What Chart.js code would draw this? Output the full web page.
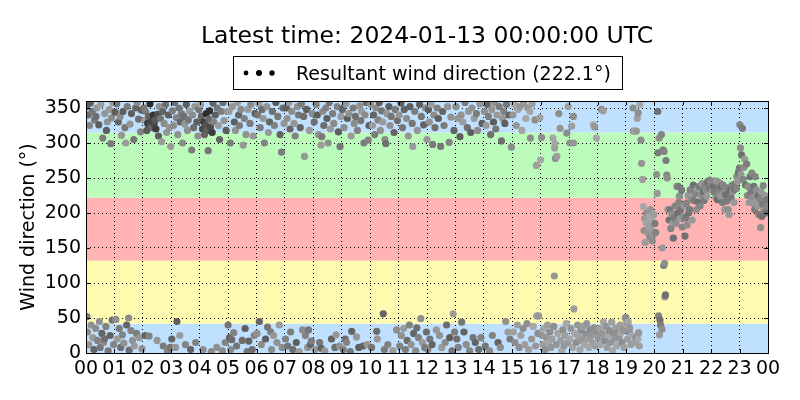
<!DOCTYPE html>
<html>
<head>
<meta charset="utf-8">
<script src="https://cdn.jsdelivr.net/npm/chart.js@4.4.1/dist/chart.umd.min.js"></script>
<style>
  html, body { margin: 0; padding: 0; background: #fff; }
</style>
</head>
<body>
<canvas id="chart" width="800" height="400"></canvas>
<script>
// Wind direction observations for 2024-01-12, hour of day vs degrees.
// Each line of obsHour matches the same line of obsDir.
const obsHour = [
  0.02,0.03,0.05,0.08,0.10,0.12,0.15,0.18,0.22,0.24,0.28,0.30,0.34,0.35,0.38,0.40,0.45,0.47,0.50,0.52,0.56,0.59,0.62,0.65,0.66,0.70,0.72,0.75,0.78,0.82,0.85,0.87,0.90,0.92,0.95,0.97,
  1.02,1.05,1.08,1.10,1.14,1.17,1.20,1.22,1.25,1.28,1.30,1.33,1.37,1.40,1.43,1.45,1.50,1.52,1.55,1.58,1.60,1.64,1.68,1.70,1.75,1.78,1.80,1.85,1.88,1.92,1.95,1.97,
  2.03,2.06,2.08,2.10,2.14,2.17,2.20,2.22,2.25,2.28,2.31,2.34,2.37,2.40,2.43,2.46,2.50,2.52,2.55,2.58,2.62,2.66,2.70,2.72,2.75,2.80,2.84,2.87,2.90,2.94,2.97,2.98,
  3.02,3.04,3.08,3.12,3.15,3.18,3.20,3.23,3.27,3.30,3.32,3.36,3.40,3.44,3.48,3.50,3.53,3.57,3.60,3.64,3.68,3.72,3.75,3.79,3.83,3.86,3.90,3.94,3.97,
  4.03,4.06,4.10,4.12,4.14,4.17,4.20,4.23,4.26,4.30,4.32,4.35,4.38,4.41,4.44,4.47,4.50,4.55,4.60,4.62,4.66,4.70,4.75,4.80,4.82,4.86,4.90,4.93,4.97,
  5.00,5.03,5.05,5.08,5.10,5.13,5.15,5.20,5.22,5.26,5.30,5.33,5.37,5.40,5.45,5.50,5.53,5.57,5.60,5.63,5.67,5.70,5.73,5.77,5.80,5.85,5.88,5.92,5.95,
  6.02,6.04,6.08,6.10,6.13,6.17,6.20,6.24,6.28,6.32,6.36,6.39,6.42,6.46,6.50,6.53,6.56,6.60,6.63,6.68,6.72,6.75,6.80,6.83,6.88,6.90,6.93,6.97,
  7.02,7.05,7.08,7.10,7.14,7.18,7.20,7.24,7.28,7.32,7.36,7.40,7.44,7.48,7.50,7.54,7.58,7.62,7.66,7.69,7.72,7.76,7.80,7.83,7.86,7.90,7.93,7.96,
  8.03,8.06,8.10,8.14,8.18,8.22,8.27,8.27,8.30,8.33,8.37,8.40,8.44,8.48,8.52,8.56,8.60,8.64,8.68,8.72,8.76,8.80,8.84,8.88,8.92,8.94,8.97,
  9.02,9.05,9.08,9.12,9.15,9.17,9.20,9.25,9.30,9.33,9.35,9.40,9.44,9.48,9.52,9.55,9.60,9.63,9.67,9.70,9.75,9.78,9.82,9.86,9.90,9.93,9.96,
  10.02,10.05,10.08,10.12,10.16,10.20,10.23,10.25,10.28,10.32,10.36,10.40,10.44,10.46,10.50,10.52,10.55,10.58,10.62,10.66,10.70,10.74,10.80,10.84,10.88,10.93,10.96,
  11.02,11.04,11.08,11.10,11.14,11.18,11.20,11.24,11.28,11.30,11.34,11.38,11.40,11.44,11.48,11.50,11.53,11.57,11.60,11.64,11.66,11.70,11.74,11.78,11.80,11.84,11.88,11.92,11.95,11.98,
  12.00,12.03,12.05,12.08,12.10,12.14,12.18,12.20,12.24,12.28,12.33,12.36,12.40,12.44,12.48,12.52,12.55,12.60,12.64,12.69,12.72,12.78,12.80,12.84,12.88,12.92,12.95,12.97,
  13.02,13.05,13.08,13.10,13.16,13.20,13.22,13.26,13.30,13.34,13.38,13.42,13.46,13.50,13.54,13.58,13.62,13.66,13.70,13.74,13.78,13.82,13.86,13.90,13.94,
  14.02,14.05,14.08,14.12,14.16,14.20,14.24,14.28,14.30,14.34,14.38,14.42,14.46,14.50,14.54,14.58,14.62,14.66,14.70,14.74,14.77,14.80,14.85,14.88,14.92,14.97,
  15.02,15.04,15.08,15.10,15.14,15.18,15.20,15.24,15.28,15.30,15.34,15.38,15.40,15.44,15.48,15.52,15.55,15.58,15.62,15.64,15.68,15.70,15.74,15.80,15.82,15.85,15.86,15.90,15.93,15.97,
  16.00,16.03,16.05,16.08,16.12,16.16,16.20,16.24,16.28,16.32,16.36,16.40,16.43,16.46,16.48,16.49,16.50,16.52,16.55,16.57,16.60,16.64,16.68,16.70,16.74,16.78,16.82,16.86,16.90,16.92,16.95,16.97,
  17.02,17.03,17.06,17.09,17.12,17.15,17.16,17.17,17.20,17.25,17.30,17.34,17.38,17.42,17.46,17.50,17.54,17.58,17.62,17.66,17.70,17.74,17.78,17.82,17.85,17.88,17.90,17.93,17.96,17.98,
  18.02,18.06,18.10,18.14,18.17,18.20,18.21,18.25,18.30,18.34,18.38,18.42,18.46,18.50,18.53,18.57,18.60,18.64,18.68,18.72,18.76,18.80,18.82,18.86,18.90,18.94,18.97,
  19.00,19.03,19.06,19.08,19.12,19.13,19.18,19.20,19.25,19.26,19.30,19.32,19.36,19.37,19.40,19.42,19.43,19.45,19.47,19.49,19.53,19.55,19.59,19.61,19.64,19.66,19.68,19.71,19.73,19.76,19.78,19.81,19.84,19.86,19.88,19.91,19.93,19.96,19.98,
  20.02,20.05,20.08,20.10,20.12,20.13,20.15,20.17,20.18,20.20,20.22,20.25,20.27,20.28,20.31,20.33,20.34,20.36,20.37,20.39,20.41,20.44,20.45,20.48,20.52,20.55,20.58,20.62,20.65,20.67,20.70,20.73,20.76,20.79,20.82,20.84,20.86,20.88,20.90,20.93,20.96,20.98,
  21.02,21.05,21.08,21.10,21.13,21.15,21.18,21.21,21.24,21.26,21.30,21.33,21.37,21.40,21.44,21.48,21.52,21.55,21.58,21.61,21.64,21.68,21.72,21.75,21.78,21.82,21.85,21.88,21.92,21.95,
  22.02,22.05,22.08,22.10,22.14,22.17,22.19,22.22,22.25,22.28,22.30,22.33,22.36,22.40,22.42,22.45,22.48,22.51,22.54,22.57,22.60,22.63,22.66,22.70,22.74,22.77,22.80,22.83,22.86,22.89,22.90,22.93,22.96,22.99,
  23.01,23.03,23.05,23.07,23.10,23.12,23.15,23.18,23.21,23.25,23.28,23.30,23.34,23.37,23.40,23.43,23.46,23.48,23.50,23.53,23.55,23.59,23.62,23.65,23.68,23.71,23.74,23.76,23.78,23.81,23.83,23.86,23.89,23.92,23.95,23.98
];
const obsDir = [
  352,52,30,340,12,325,357,40,345,22,5,333,35,338,350,18,326,45,8,355,28,307,15,20,342,38,318,330,3,348,25,299,336,47,358,12,
  344,48,356,20,330,35,338,8,311,26,345,14,322,300,40,352,50,4,327,32,342,18,305,10,350,28,358,334,22,316,347,6,
  350,332,25,345,318,328,338,24,356,325,331,322,340,327,333,320,18,341,310,352,335,302,345,10,328,355,315,3,340,322,8,295,
  20,346,325,358,8,336,45,312,350,25,330,342,300,338,327,12,355,318,333,345,5,290,340,322,352,15,330,310,348,
  355,338,320,5,330,312,326,342,318,289,334,346,323,2,315,357,330,340,8,350,325,305,345,3,358,332,15,318,345,
  40,345,22,300,5,19,352,29,330,318,10,358,340,325,348,18,297,335,35,312,2,348,17,328,355,5,310,25,342,
  28,340,356,45,322,12,348,335,300,20,352,37,315,330,30,5,345,25,325,358,15,338,40,312,287,8,350,328,
  20,350,335,10,358,320,30,345,5,328,310,15,352,340,2,322,356,33,338,281,25,348,8,33,318,12,17,342,
  330,5,355,340,312,15,297,7,309,345,325,3,350,335,300,358,320,20,342,328,8,26,352,316,10,295,338,
  348,5,322,20,356,15,335,342,2,310,31,350,328,338,23,318,8,353,332,345,10,300,340,358,12,304,325,
  355,8,325,340,312,350,31,20,333,358,318,346,330,56,5,305,299,342,12,352,325,338,3,315,348,33,332,
  340,10,357,25,322,35,348,5,335,18,310,40,352,12,328,295,28,345,3,36,318,22,355,49,338,15,326,8,350,30,
  305,5,348,330,20,355,12,298,340,322,33,350,335,25,295,8,345,325,15,40,352,301,22,337,3,56,318,30,
  352,20,335,8,309,340,44,330,30,358,12,322,345,3,315,350,22,335,15,342,318,5,356,22,328,
  345,10,325,355,338,3,312,348,25,330,358,320,340,15,352,8,303,335,345,328,45,355,30,340,20,294,
  340,30,355,15,325,40,348,8,352,25,318,35,357,12,335,42,350,5,345,307,20,356,38,333,10,268,53,28,53,336,
  276,308,25,12,35,5,22,40,15,30,8,20,307,38,110,293,299,278,12,281,28,342,321,18,3,33,10,25,42,314,15,352,
  20,300,35,324,8,338,300,63,28,15,40,22,5,32,18,38,12,27,42,20,8,33,25,15,326,36,323,10,307,30,
  22,35,12,348,28,346,44,18,38,8,25,32,15,44,3,28,20,36,10,30,22,40,29,15,33,8,50,
  51,43,20,44,30,36,12,25,350,317,15,317,22,317,335,20,343,29,10,355,304,271,248,209,175,192,158,186,200,172,182,195,166,205,178,190,160,170,198,
  185,172,255,228,345,286,53,307,26,47,40,312,34,150,290,125,288,128,80,83,275,254,250,205,190,205,178,198,186,164,193,210,185,238,200,238,215,224,192,205,233,180,
  195,210,167,193,214,183,225,200,205,233,220,190,240,218,228,205,235,215,238,210,225,242,230,218,240,233,224,245,236,247,
  243,232,238,230,246,222,245,219,236,228,243,224,238,215,240,230,205,226,217,236,205,198,233,222,240,231,215,234,242,235,252,245,258,264,
  326,293,255,283,321,248,265,277,240,270,225,238,215,252,230,257,222,214,238,205,252,233,210,225,198,219,179,230,195,212,239,205,225,200,219,210
];

const resultantDirection = 222.1;
const titleText = 'Latest time: 2024-01-13 00:00:00 UTC';
const hourTicks = [0,1,2,3,4,5,6,7,8,9,10,11,12,13,14,15,16,17,18,19,20,21,22,23,24];
const hourLabels = ['00','01','02','03','04','05','06','07','08','09','10','11','12',
                    '13','14','15','16','17','18','19','20','21','22','23','00'];
const dirTicks = [0,50,100,150,200,250,300,350];
// compass sectors behind the points (degrees)
const sectorEdges = [0, 42, 132, 222, 315, 360];
const sectorColors = ['#bfe0ff', '#fffbb0', '#ffb3b3', '#bcfcba', '#bfe0ff'];

const FONT = 'DejaVu Sans';
const grayCycle = [100, 124, 140, 110, 150, 130, 94, 145, 118, 155];

const points = obsHour.map((h, i) => ({ x: h, y: obsDir[i] }));

function pointGray(ctx) {
  const p = ctx.raw;
  const i = ctx.dataIndex || 0;
  if (!p) return 'rgb(128,128,128)';
  let g = grayCycle[i % grayCycle.length];
  if (p.x >= 15 && p.x < 20) g = 142 + (i % 4) * 8;
  else if (p.x >= 20) g = 112 + (i % 5) * 10;
  if (((p.x > 2.1 && p.x < 2.55) || (p.x > 4.08 && p.x < 4.5)) && p.y > 300) g -= 50;
  return `rgb(${g},${g},${g})`;
}

const backdrop = {
  id: 'backdrop',
  beforeDraw(chart) {
    const { ctx, chartArea: a, scales: { y } } = chart;
    ctx.save();
    ctx.fillStyle = '#fff';
    ctx.fillRect(0, 0, chart.width, chart.height);
    for (let i = 0; i < sectorColors.length; i++) {
      const top = y.getPixelForValue(sectorEdges[i + 1]);
      const bot = y.getPixelForValue(sectorEdges[i]);
      ctx.fillStyle = sectorColors[i];
      ctx.fillRect(a.left, top, a.right - a.left, bot - top);
    }
    ctx.restore();
  },
  afterDatasetsDraw(chart) {
    const { ctx, chartArea: a, scales: { x, y } } = chart;
    ctx.save();
    ctx.strokeStyle = '#000';
    ctx.lineWidth = 1;
    ctx.beginPath();
    hourTicks.forEach(h => {
      const px = Math.round(x.getPixelForValue(h)) + 0.5;
      ctx.moveTo(px, a.bottom); ctx.lineTo(px, a.bottom - 4);
      ctx.moveTo(px, a.top); ctx.lineTo(px, a.top + 4);
    });
    dirTicks.forEach(d => {
      const py = Math.round(y.getPixelForValue(d)) + 0.5;
      ctx.moveTo(a.left, py); ctx.lineTo(a.left + 4, py);
      ctx.moveTo(a.right, py); ctx.lineTo(a.right - 4, py);
    });
    ctx.stroke();
    ctx.strokeRect(Math.round(a.left) + 0.5, Math.round(a.top) + 0.5,
                   Math.round(a.right - a.left), Math.round(a.bottom - a.top));
    ctx.restore();
  },
  afterDraw(chart) {
    const { ctx, chartArea: a } = chart;
    const cx = (a.left + a.right) / 2;
    ctx.save();
    ctx.fillStyle = '#000';
    ctx.textAlign = 'center';
    ctx.textBaseline = 'alphabetic';
    ctx.font = `23.5px "${FONT}"`;
    ctx.fillText(titleText, cx, 43);

    // legend box
    const label = `Resultant wind direction (${resultantDirection.toFixed(1)}°)`;
    ctx.font = `19px "${FONT}"`;
    const tw = ctx.measureText(label).width;
    const bw = Math.round(tw + 74);
    const bx = Math.round(cx - bw / 2);
    const by = 56, bh = 33;
    ctx.strokeStyle = '#000';
    ctx.lineWidth = 1;
    ctx.strokeRect(bx + 0.5, by + 0.5, bw, bh);
    [[13, 2.4], [26, 3.0], [39, 2.7]].forEach(([dx, r]) => {
      ctx.beginPath();
      ctx.arc(bx + dx, by + 17, r, 0, Math.PI * 2);
      ctx.fill();
    });
    ctx.textAlign = 'left';
    ctx.fillText(label, bx + 63, by + 24);
    ctx.restore();
  }
};

new Chart(document.getElementById('chart'), {
  type: 'scatter',
  data: {
    datasets: [{
      label: 'Resultant wind direction',
      data: points,
      pointRadius: 3.6,
      pointBorderWidth: 0,
      pointHoverRadius: 3.6,
      backgroundColor: pointGray
    }]
  },
  options: {
    responsive: false,
    animation: false,
    events: [],
    layout: { padding: { left: 0, right: 32, top: 101, bottom: 0 } },
    plugins: { legend: { display: false }, tooltip: { enabled: false }, title: { display: false } },
    scales: {
      x: {
        type: 'linear', min: 0, max: 24,
        afterBuildTicks: s => { s.ticks = hourTicks.map(v => ({ value: v })); },
        afterFit: s => { s.height = 47; },
        ticks: {
          color: '#000', font: { family: FONT, size: 19 }, padding: 4.5, maxRotation: 0,
          autoSkip: false, callback: (v, i) => hourLabels[i]
        },
        grid: { color: '#000', lineWidth: 1, drawTicks: false },
        border: { display: false, dash: [1, 3] }
      },
      y: {
        min: 0, max: 360,
        afterBuildTicks: s => { s.ticks = dirTicks.map(v => ({ value: v })); },
        afterFit: s => { s.width = 86; },
        ticks: { color: '#000', font: { family: FONT, size: 19 }, padding: 5 },
        grid: { color: '#000', lineWidth: 1, drawTicks: false },
        border: { display: false, dash: [1, 3] },
        title: {
          display: true, text: 'Wind direction (°)', color: '#000',
          font: { family: FONT, size: 19 }, padding: { top: 18, bottom: 0 }
        }
      }
    }
  },
  plugins: [backdrop]
});
</script>
</body>
</html>
